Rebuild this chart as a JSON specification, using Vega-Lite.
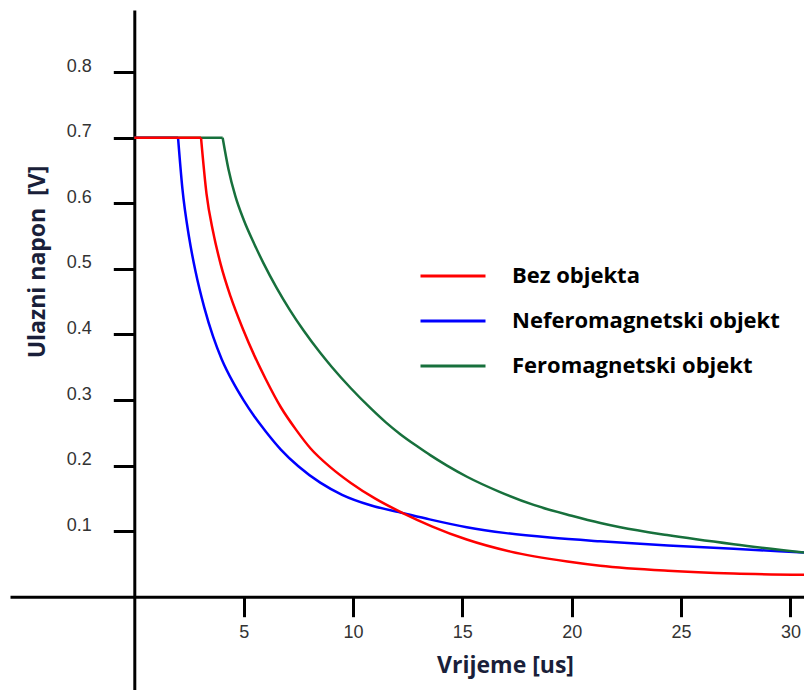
{
  "$schema": "https://vega.github.io/schema/vega-lite/v6.json",
  "width": 794,
  "height": 680,
  "autosize": {"type": "none"},
  "padding": {"left": 10, "top": 10, "right": 0, "bottom": 0},
  "background": "white",
  "config": {"view": {"stroke": null}},
  "data": {
    "values": [
      {"series": "Neferomagnetski objekt", "part": "flat", "t": 0, "v": 0.7},
      {"series": "Neferomagnetski objekt", "part": "flat", "t": 2.0, "v": 0.7},
      {"series": "Neferomagnetski objekt", "part": "decay", "t": 2.0, "v": 0.7},
      {"series": "Neferomagnetski objekt", "part": "decay", "t": 2.2, "v": 0.622},
      {"series": "Neferomagnetski objekt", "part": "decay", "t": 2.5, "v": 0.549},
      {"series": "Neferomagnetski objekt", "part": "decay", "t": 2.8, "v": 0.496},
      {"series": "Neferomagnetski objekt", "part": "decay", "t": 3.2, "v": 0.441},
      {"series": "Neferomagnetski objekt", "part": "decay", "t": 3.6, "v": 0.397},
      {"series": "Neferomagnetski objekt", "part": "decay", "t": 4.0, "v": 0.362},
      {"series": "Neferomagnetski objekt", "part": "decay", "t": 4.5, "v": 0.328},
      {"series": "Neferomagnetski objekt", "part": "decay", "t": 5.0, "v": 0.2995},
      {"series": "Neferomagnetski objekt", "part": "decay", "t": 5.5, "v": 0.2745},
      {"series": "Neferomagnetski objekt", "part": "decay", "t": 6.0, "v": 0.2525},
      {"series": "Neferomagnetski objekt", "part": "decay", "t": 6.7, "v": 0.2245},
      {"series": "Neferomagnetski objekt", "part": "decay", "t": 7.5, "v": 0.199},
      {"series": "Neferomagnetski objekt", "part": "decay", "t": 8.5, "v": 0.174},
      {"series": "Neferomagnetski objekt", "part": "decay", "t": 9.5, "v": 0.1555},
      {"series": "Neferomagnetski objekt", "part": "decay", "t": 10.8, "v": 0.1395},
      {"series": "Neferomagnetski objekt", "part": "decay", "t": 12.3, "v": 0.1275},
      {"series": "Neferomagnetski objekt", "part": "decay", "t": 13.5, "v": 0.118},
      {"series": "Neferomagnetski objekt", "part": "decay", "t": 15.2, "v": 0.106},
      {"series": "Neferomagnetski objekt", "part": "decay", "t": 17.0, "v": 0.097},
      {"series": "Neferomagnetski objekt", "part": "decay", "t": 19.0, "v": 0.0902},
      {"series": "Neferomagnetski objekt", "part": "decay", "t": 21.3, "v": 0.0845},
      {"series": "Neferomagnetski objekt", "part": "decay", "t": 24.4, "v": 0.0782},
      {"series": "Neferomagnetski objekt", "part": "decay", "t": 27.4, "v": 0.073},
      {"series": "Neferomagnetski objekt", "part": "decay", "t": 30.62, "v": 0.0675},
      {"series": "Feromagnetski objekt", "part": "flat", "t": 0, "v": 0.7},
      {"series": "Feromagnetski objekt", "part": "flat", "t": 4.04, "v": 0.7},
      {"series": "Feromagnetski objekt", "part": "decay", "t": 4.04, "v": 0.7},
      {"series": "Feromagnetski objekt", "part": "decay", "t": 4.3, "v": 0.653},
      {"series": "Feromagnetski objekt", "part": "decay", "t": 4.62, "v": 0.611},
      {"series": "Feromagnetski objekt", "part": "decay", "t": 5.0, "v": 0.575},
      {"series": "Feromagnetski objekt", "part": "decay", "t": 5.5, "v": 0.537},
      {"series": "Feromagnetski objekt", "part": "decay", "t": 5.91, "v": 0.5085},
      {"series": "Feromagnetski objekt", "part": "decay", "t": 6.5, "v": 0.4715},
      {"series": "Feromagnetski objekt", "part": "decay", "t": 7.1, "v": 0.438},
      {"series": "Feromagnetski objekt", "part": "decay", "t": 7.74, "v": 0.406},
      {"series": "Feromagnetski objekt", "part": "decay", "t": 8.5, "v": 0.372},
      {"series": "Feromagnetski objekt", "part": "decay", "t": 9.04, "v": 0.35},
      {"series": "Feromagnetski objekt", "part": "decay", "t": 9.9, "v": 0.318},
      {"series": "Feromagnetski objekt", "part": "decay", "t": 10.79, "v": 0.288},
      {"series": "Feromagnetski objekt", "part": "decay", "t": 11.5, "v": 0.266},
      {"series": "Feromagnetski objekt", "part": "decay", "t": 12.16, "v": 0.248},
      {"series": "Feromagnetski objekt", "part": "decay", "t": 13.0, "v": 0.228},
      {"series": "Feromagnetski objekt", "part": "decay", "t": 13.53, "v": 0.216},
      {"series": "Feromagnetski objekt", "part": "decay", "t": 14.3, "v": 0.2},
      {"series": "Feromagnetski objekt", "part": "decay", "t": 15.21, "v": 0.183},
      {"series": "Feromagnetski objekt", "part": "decay", "t": 16.7, "v": 0.16},
      {"series": "Feromagnetski objekt", "part": "decay", "t": 18.26, "v": 0.14},
      {"series": "Feromagnetski objekt", "part": "decay", "t": 20.0, "v": 0.1235},
      {"series": "Feromagnetski objekt", "part": "decay", "t": 21.31, "v": 0.1125},
      {"series": "Feromagnetski objekt", "part": "decay", "t": 22.22, "v": 0.106},
      {"series": "Feromagnetski objekt", "part": "decay", "t": 24.36, "v": 0.094},
      {"series": "Feromagnetski objekt", "part": "decay", "t": 27.4, "v": 0.08},
      {"series": "Feromagnetski objekt", "part": "decay", "t": 30.62, "v": 0.0675},
      {"series": "Bez objekta", "part": "flat", "t": 0, "v": 0.7},
      {"series": "Bez objekta", "part": "flat", "t": 3.05, "v": 0.7},
      {"series": "Bez objekta", "part": "decay", "t": 3.05, "v": 0.7},
      {"series": "Bez objekta", "part": "decay", "t": 3.3, "v": 0.615},
      {"series": "Bez objekta", "part": "decay", "t": 3.6, "v": 0.557},
      {"series": "Bez objekta", "part": "decay", "t": 3.95, "v": 0.507},
      {"series": "Bez objekta", "part": "decay", "t": 4.4, "v": 0.458},
      {"series": "Bez objekta", "part": "decay", "t": 4.97, "v": 0.408},
      {"series": "Bez objekta", "part": "decay", "t": 5.5, "v": 0.367},
      {"series": "Bez objekta", "part": "decay", "t": 6.0, "v": 0.3325},
      {"series": "Bez objekta", "part": "decay", "t": 6.7, "v": 0.289},
      {"series": "Bez objekta", "part": "decay", "t": 7.4, "v": 0.2545},
      {"series": "Bez objekta", "part": "decay", "t": 8.05, "v": 0.2265},
      {"series": "Bez objekta", "part": "decay", "t": 9.0, "v": 0.1966},
      {"series": "Bez objekta", "part": "decay", "t": 9.9, "v": 0.1736},
      {"series": "Bez objekta", "part": "decay", "t": 11.0, "v": 0.15},
      {"series": "Bez objekta", "part": "decay", "t": 12.3, "v": 0.1272},
      {"series": "Bez objekta", "part": "decay", "t": 13.6, "v": 0.1074},
      {"series": "Bez objekta", "part": "decay", "t": 15.2, "v": 0.0872},
      {"series": "Bez objekta", "part": "decay", "t": 17.2, "v": 0.0688},
      {"series": "Bez objekta", "part": "decay", "t": 19.8, "v": 0.0537},
      {"series": "Bez objekta", "part": "decay", "t": 21.3, "v": 0.0473},
      {"series": "Bez objekta", "part": "decay", "t": 24.4, "v": 0.0396},
      {"series": "Bez objekta", "part": "decay", "t": 27.4, "v": 0.0354},
      {"series": "Bez objekta", "part": "decay", "t": 30.62, "v": 0.0335}
    ]
  },
  "mark": {"type": "line", "strokeWidth": 2.5, "interpolate": "monotone", "clip": true},
  "encoding": {
    "x": {
      "field": "t",
      "type": "quantitative",
      "scale": {"domain": [-5.684, 30.62], "nice": false, "zero": false},
      "axis": {
        "title": "Vrijeme [us]",
        "values": [5, 10, 15, 20, 25, 30],
        "offset": -93.3,
        "grid": false,
        "labelOverlap": false,
        "labelFlush": false,
        "domainColor": "black",
        "domainWidth": 3,
        "tickColor": "black",
        "tickWidth": 3,
        "tickSize": 20,
        "labelFont": "Liberation Sans",
        "labelFontSize": 18,
        "labelColor": "#333333",
        "labelPadding": 7,
        "titleFont": "Open Sans",
        "titleFontSize": 23,
        "titleFontWeight": "bold",
        "titleColor": "#1a1f3a",
        "titleX": 495,
        "titleY": 76,
        "titleBaseline": "alphabetic",
        "titleAlign": "center",
        "titleAnchor": null
      }
    },
    "y": {
      "field": "v",
      "type": "quantitative",
      "scale": {"domain": [-0.1423, 0.895], "nice": false, "zero": false},
      "axis": {
        "title": "Ulazni napon\u00a0 [V]",
        "values": [0.1, 0.2, 0.3, 0.4, 0.5, 0.6, 0.7, 0.8],
        "format": ".1f",
        "offset": -124.3,
        "grid": false,
        "labelOverlap": false,
        "labelFlush": false,
        "domainColor": "black",
        "domainWidth": 3,
        "tickColor": "black",
        "tickWidth": 3,
        "tickSize": 21,
        "labelFont": "Liberation Sans",
        "labelFontSize": 18,
        "labelColor": "#333333",
        "labelPadding": 22,
        "labelOffset": -6,
        "titleFont": "Open Sans",
        "titleFontSize": 23,
        "titleFontWeight": "bold",
        "titleColor": "#1a1f3a",
        "titleAngle": 270,
        "titleX": -97,
        "titleY": 251.5,
        "titleBaseline": "middle",
        "titleAlign": "center",
        "titleAnchor": null
      }
    },
    "detail": {"field": "part", "type": "nominal"},
    "color": {
      "field": "series",
      "type": "nominal",
      "scale": {
        "domain": ["Bez objekta", "Neferomagnetski objekt", "Feromagnetski objekt"],
        "range": ["#ff0000", "#0000ff", "#17703c"]
      },
      "legend": {
        "orient": "none",
        "legendX": 409,
        "legendY": 232,
        "title": null,
        "symbolType": "stroke",
        "symbolSize": 4225,
        "symbolStrokeWidth": 3,
        "labelFont": "Open Sans",
        "labelFontSize": 22,
        "labelFontWeight": "bold",
        "labelColor": "black",
        "labelOffset": 25,
        "labelLimit": 400,
        "rowPadding": -1,
        "padding": 0
      }
    }
  }
}
